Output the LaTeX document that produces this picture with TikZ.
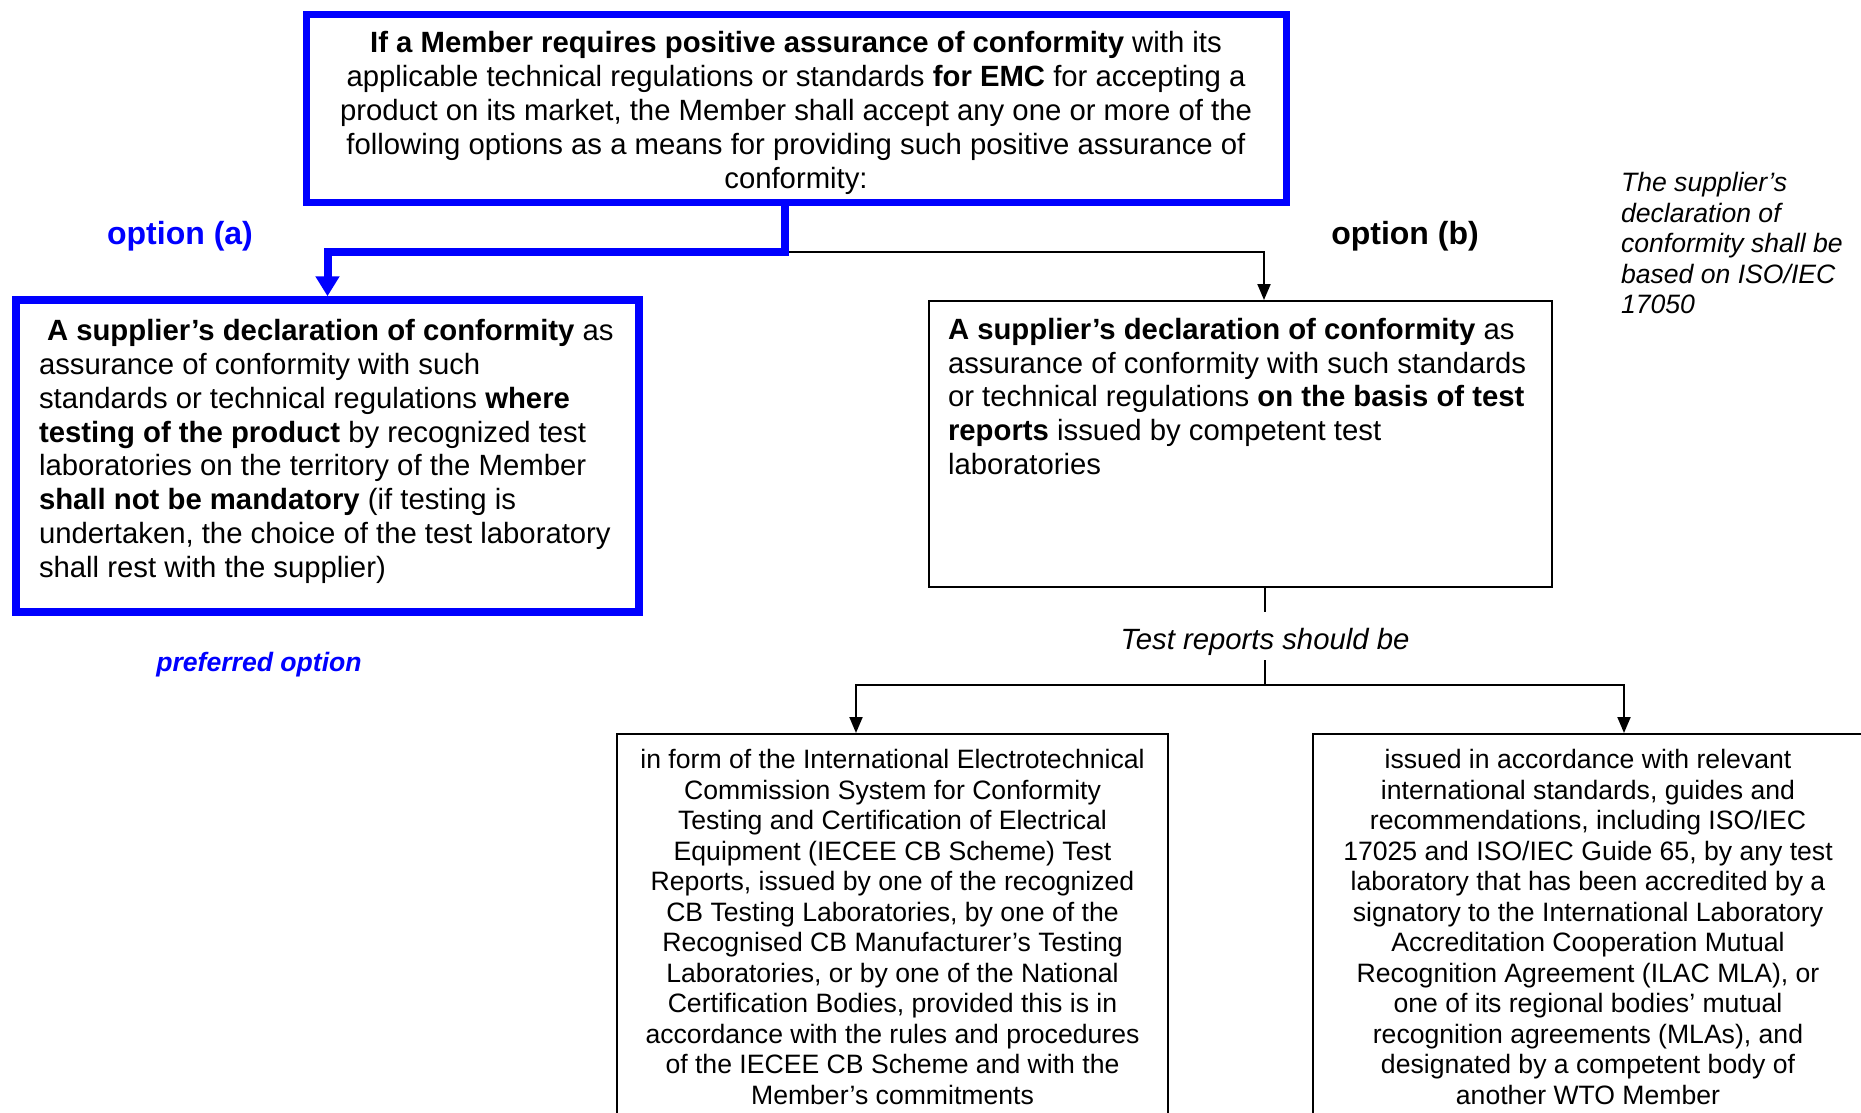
\documentclass[tikz,border=0pt]{standalone}
\usepackage{fontspec}
\setmainfont{Liberation Sans}
\usetikzlibrary{arrows.meta}
\newcommand\fmain{\fontsize{29.3pt}{33.8pt}\selectfont}
\newcommand\fsmall{\fontsize{26.6pt}{30.5pt}\selectfont}
\newcommand\flab{\fontsize{32pt}{36pt}\selectfont\bfseries}
\newcommand\sq{{\char"0027}}
\begin{document}
\begin{tikzpicture}[x=1pt,y=-1pt,
  bluebox/.style={draw=blue, line width=7.5pt, inner sep=0pt, outer sep=3.75pt},
  thinbox/.style={draw=black, line width=2pt, inner sep=0pt, outer sep=1pt},
  txt/.style={inner sep=0pt, outer sep=0pt},
  blueconn/.style={draw=blue, line width=8pt, line join=miter},
  blackconn/.style={draw=black, line width=2pt, line join=miter},
  bluetip/.style={-{Triangle[length=20pt,width=23pt]}},
  blacktip/.style={-{Triangle[length=16pt,width=13pt]}}
]
\useasboundingbox (0,0) rectangle (1861,1113);
\clip (0,0) rectangle (1861,1113);
\fill[white] (0,0) rectangle (1861,1113);

% boxes
\node[bluebox, minimum width=980pt, minimum height=188pt] (top) at (796.5,108.5) {};
\node[bluebox, minimum width=623pt, minimum height=312pt] (opta) at (327.5,456) {};
\node[thinbox, minimum width=623pt, minimum height=286pt] (optb) at (1240.5,444) {};
\node[thinbox, minimum width=551pt, minimum height=420pt, anchor=north] (repa) at (892.5,733) {};
\node[thinbox, minimum width=551pt, minimum height=420pt, anchor=north] (repb) at (1588.5,733) {};

% texts
\node[txt, font=\fmain, align=center] (toptext) at (796,113)
 {\textbf{If a Member requires positive assurance of conformity} with its\\
  applicable technical regulations or standards \textbf{for EMC} for accepting a\\
  product on its market, the Member shall accept any one or more of the\\
  following options as a means for providing such positive assurance of\\
  conformity:};

\node[txt, font=\fmain, align=left, anchor=west] (optatext) at (39,451.5)
 {\hspace*{8pt}\textbf{A supplier’s declaration of conformity} as\\
  assurance of conformity with such\\
  standards or technical regulations \textbf{where}\\
  \textbf{testing of the product} by recognized test\\
  laboratories on the territory of the Member\\
  \textbf{shall not be mandatory} (if testing is\\
  undertaken, the choice of the test laboratory\\
  shall rest with the supplier)};

\node[txt, font=\fmain, align=left, anchor=west] (optbtext) at (948,396.5)
 {\textbf{A supplier’s declaration of conformity} as\\
  assurance of conformity with such standards\\
  or technical regulations \textbf{on the basis of test}\\
  \textbf{reports} issued by competent test\\
  laboratories};

\node[txt, font=\fsmall, align=center] (repatext) at (892.5,927)
 {in form of the International Electrotechnical\\
  Commission System for Conformity\\
  Testing and Certification of Electrical\\
  Equipment (IECEE CB Scheme) Test\\
  Reports, issued by one of the recognized\\
  CB Testing Laboratories, by one of the\\
  Recognised CB Manufacturer\sq s Testing\\
  Laboratories, or by one of the National\\
  Certification Bodies, provided this is in\\
  accordance with the rules and procedures\\
  of the IECEE CB Scheme and with the\\
  Member’s commitments};

\node[txt, font=\fsmall, align=center] (repbtext) at (1588,927)
 {issued in accordance with relevant\\
  international standards, guides and\\
  recommendations, including ISO/IEC\\
  17025 and ISO/IEC Guide 65, by any test\\
  laboratory that has been accredited by a\\
  signatory to the International Laboratory\\
  Accreditation Cooperation Mutual\\
  Recognition Agreement (ILAC MLA), or\\
  one of its regional bodies’ mutual\\
  recognition agreements (MLAs), and\\
  designated by a competent body of\\
  another WTO Member};

\node[txt, font=\fsmall\itshape, align=left, anchor=west] (note) at (1621,243)
 {The supplier\sq s\\
  declaration of\\
  conformity shall be\\
  based on ISO/IEC\\
  17050};

\node[txt, font=\flab, text=blue] (laba) at (180,236) {option (a)};
\node[txt, font=\flab] (labb) at (1405,236) {option (b)};
\node[txt, font=\fsmall\bfseries\itshape, text=blue] (pref) at (259,665) {preferred option};
\node[txt, font=\fmain\itshape] (should) at (1265,642) {Test reports should be};

% connectors
\coordinate (j1) at (785,252);
\coordinate (ax) at (1264,252);
\coordinate (sa) at (1265,612);
\coordinate (sb) at (1265,660);
\coordinate (split) at (1265,685);
\coordinate (lx) at (856,685);
\coordinate (rx) at (1624,685);
\coordinate (bend) at (327.5,252);
\coordinate (stem) at (327.5,272);

\draw[blackconn, blacktip] (j1) -- (ax) -- (optb.north -| ax);
\draw[blueconn] (top.south -| j1) -- (j1) -- (bend) -- (stem);
\draw[blue, line width=8pt, bluetip] (stem) -- (opta.north);

\draw[blackconn] (optb.south -| sa) -- (sa);
\draw[blackconn] (sb) -- (split);
\draw[blackconn, blacktip] (split) -- (lx) -- (repa.north -| lx);
\draw[blackconn, blacktip] (split) -- (rx) -- (repb.north -| rx);
\end{tikzpicture}
\end{document}
